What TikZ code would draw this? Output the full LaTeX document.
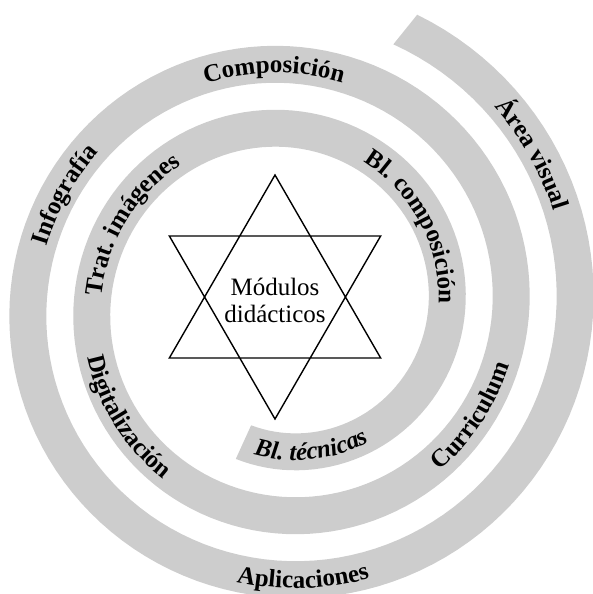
\documentclass[tikz,border=0pt]{standalone}
\usepackage{fontspec}
\setmainfont{Liberation Serif}
\usepackage{tikz}
\usetikzlibrary{decorations.text}
\definecolor{bandgray}{HTML}{CDCDCD}
\newcommand{\spirad}[1]{(161.5+0.1778*(#1))}
\newcommand{\lblfont}{\fontsize{25}{27}\selectfont\bfseries}
% label read clockwise, letters pointing out
\newcommand{\outlabel}[3][]{%
  \path[decorate, decoration={text along path, text align=center, text={|\lblfont#1|#3}}]
    plot[variable=\t, domain=0:1, samples=90] ({#2+45-90*\t}:{\spirad{#2+45-90*\t}-8.5});}
% label read counter-clockwise, letters pointing in
\newcommand{\inlabel}[3][]{%
  \path[decorate, decoration={text along path, text align=center, text={|\lblfont#1|#3}}]
    plot[variable=\t, domain=0:1, samples=90] ({#2-45+90*\t}:{\spirad{#2-45+90*\t}+8.5});}

\begin{document}
\begin{tikzpicture}[
    x=1pt, y=1pt,
    band/.style={fill=bandgray},
    star/.style={draw=black, line width=1.4pt},
  ]
  \useasboundingbox (-285.5,-288) rectangle (306.5,306);
  \fill[band] plot[variable=\t, domain=0:1, samples=320] ({-108+895.6*\t}:{\spirad{-108+895.6*\t}+18.5})
    -- plot[variable=\t, domain=0:1, samples=320] ({787.6-895.6*\t}:{\spirad{787.6-895.6*\t}-18.5}) -- cycle;

  \draw[star, shift={(-10.5,9)}] (90:122) -- (210:122) -- (330:122) -- cycle
    (270:122) -- (30:122) -- (150:122) -- cycle;
  \node[align=center, font=\fontsize{25}{27}\selectfont] (mod) at (-10.5,6) {Módulos\\didácticos};

  \inlabel[\itshape]{-81}{Bl. técnicas}
  \outlabel{30.5}{Bl. composición}
  \outlabel{151}{Trat. imágenes}
  \inlabel{214}{Digitalización}
  \inlabel{328.5}{Curriculum}
  \outlabel{452}{Composición}
  \outlabel{512.6}{Infografía}
  \inlabel{633}{Aplicaciones}
  \outlabel{751}{Área visual}
\end{tikzpicture}
\end{document}
